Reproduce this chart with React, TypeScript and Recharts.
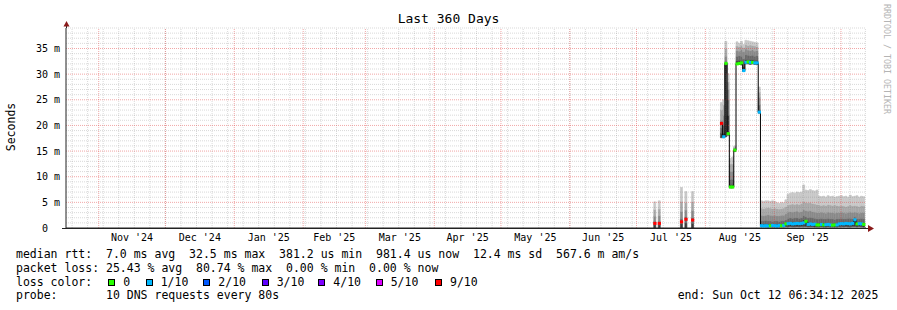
import React from 'react';
import { ComposedChart, Bar, Line, Scatter, XAxis, YAxis, ReferenceLine } from 'recharts';

const FONT = '"DejaVu Sans Mono", "Liberation Mono", monospace';

// x axis = days since graph start (Thu Oct 17 2024 06:34:12), 360 days wide
const monthStarts = [14.73, 44.73, 75.73, 106.73, 134.73, 165.73, 195.73, 226.73, 256.73, 287.73, 318.73, 348.73];
const monthLabels = ["Nov '24", "Dec '24", "Jan '25", "Feb '25", "Mar '25", "Apr '25", "May '25", "Jun '25", "Jul '25", "Aug '25", "Sep '25"];
const firstSunday = 2.73;
const yTicks = [0, 5, 10, 15, 20, 25, 30, 35];

const lossColor: Record<number, string> = {
  0: '#26ff00', 1: '#00b8ff', 2: '#0059ff', 3: '#5e00ff', 4: '#7e00ff', 5: '#dd00ff', 9: '#ff0000',
};
const legendLoss = ['0', '1/10', '2/10', '3/10', '4/10', '5/10', '9/10'];
const legendKeys = [0, 1, 2, 3, 4, 5, 9];

// values in ms; smoke = lo .. u1 .. u5 (dark to light)
const julDays = [265, 267, 277, 279, 282];
const julMed = [0.9, 0.9, 1.2, 1.7, 1.55];
const julLoss = [9, 9, 9, 9, 9];
const julLo = [0, 0, 0, 0, 0];
const julU1 = [0.6, 0.6, 0.8, 1.0, 0.9];
const julU2 = [1.3, 1.3, 1.8, 2.2, 2.0];
const julU3 = [2.3, 2.4, 3.2, 3.5, 3.4];
const julU4 = [3.6, 3.7, 5.2, 5.0, 5.1];
const julU5 = [5.1, 5.3, 7.9, 7.1, 7.1];

const augDays = [295, 296, 297, 298, 299, 300, 301, 302, 303, 304, 305, 306, 307, 308, 309, 310, 311, 312];
const augMed = [20.4, 17.8, 32.1, 18.4, 8.0, 8.0, 15.2, 32.0, 32.1, 32.2, 30.7, 32.3, 32.4, 32.3, 32.3, 32.2, 32.2, 22.6];
const augLoss = [9, 1, 0, 0, 0, 0, 0, 0, 0, 0, 1, 1, 0, 1, 0, 1, 1, 1];
const augLo = [17.6, 17.6, 17.8, 18.1, 7.8, 7.8, 14.9, 31.9, 31.9, 31.8, 30.5, 32.0, 32.0, 31.9, 32.0, 31.9, 31.9, 22.4];
const augU1 = [18.5, 18.5, 31.8, 22.0, 8.5, 8.5, 15.2, 32.6, 32.7, 32.6, 31.5, 32.8, 32.8, 32.8, 32.8, 32.7, 32.7, 23.0];
const augU2 = [19.5, 20.0, 32.5, 25.0, 9.5, 9.5, 15.4, 33.5, 33.6, 33.5, 33.0, 33.8, 33.7, 33.6, 33.7, 33.5, 33.6, 24.0];
const augU3 = [21.0, 22.0, 33.5, 27.0, 11.0, 11.0, 15.6, 34.6, 34.5, 34.8, 34.4, 34.9, 34.7, 34.6, 34.8, 34.5, 34.6, 25.5];
const augU4 = [23.0, 24.0, 35.0, 28.5, 12.5, 12.5, 15.8, 35.5, 35.4, 35.6, 35.2, 35.8, 35.6, 35.7, 35.6, 35.5, 35.4, 26.5];
const augU5 = [24.5, 25.0, 36.4, 30.1, 13.6, 13.8, 16.0, 36.3, 36.0, 36.4, 35.8, 36.6, 36.5, 36.4, 36.3, 36.2, 36.1, 27.5];

const sepDays = [
  313, 314, 315, 316, 317, 318, 319, 320, 321, 322, 323, 324, 325, 326, 327, 328, 329, 330, 331, 332, 333, 334, 335, 336,
  337, 338, 339, 340, 341, 342, 343, 344, 345, 346, 347, 348, 349, 350, 351, 352, 353, 354, 355, 356, 357, 358, 359,
];
const sepMed = [
  0.45, 0.4, 0.45, 0.4, 0.45, 0.5, 0.45, 0.4, 0.5, 0.45, 0.5, 0.8, 0.85, 0.9, 0.8, 0.85, 0.9, 0.85, 0.9, 1.0, 1.3, 0.7, 0.8, 0.7,
  0.75, 0.6, 0.6, 0.7, 0.6, 0.65, 0.7, 0.6, 0.55, 0.6, 0.6, 0.8, 0.85, 0.8, 0.9, 0.85, 0.8, 0.9, 1.6, 0.8, 0.85, 0.8, 0.7,
];
const sepLoss = [
  1, 1, 1, 1, 0, 1, 1, 1, 1, 0, 1, 0, 1, 1, 1, 1, 1, 1, 1, 1, 0, 1, 1, 1,
  1, 0, 0, 1, 0, 1, 1, 1, 0, 0, 1, 1, 1, 1, 1, 1, 1, 1, 1, 0, 1, 1, 0,
];
const sepLo = [
  0.2, 0.2, 0.2, 0.15, 0.2, 0.2, 0.2, 0.15, 0.2, 0.2, 0.2, 0.25, 0.25, 0.3, 0.25, 0.25, 0.3, 0.25, 0.3, 0.3, 0.3, 0.25, 0.25, 0.25,
  0.2, 0.2, 0.2, 0.25, 0.2, 0.2, 0.25, 0.2, 0.2, 0.2, 0.2, 0.25, 0.3, 0.25, 0.3, 0.25, 0.25, 0.3, 0.3, 0.25, 0.3, 0.25, 0.2,
];
const sepU1 = [
  0.8, 0.8, 0.85, 0.8, 0.8, 0.85, 0.8, 0.8, 0.85, 0.8, 0.85, 1.1, 1.2, 1.2, 1.25, 1.2, 1.2, 1.25, 1.3, 1.6, 1.1, 1.2, 1.1, 1.1,
  1.0, 0.95, 1.0, 0.95, 1.0, 0.95, 1.0, 0.9, 0.9, 0.95, 0.95, 1.1, 1.15, 1.1, 1.2, 1.15, 1.1, 1.2, 1.8, 1.1, 1.15, 1.1, 1.0,
];
const sepU2 = [
  1.4, 1.4, 1.5, 1.4, 1.4, 1.3, 1.4, 1.4, 1.3, 1.4, 1.4, 1.6, 1.9, 2.0, 1.9, 2.0, 2.0, 1.9, 2.0, 2.4, 2.2, 2.0, 2.1, 2.0,
  1.9, 1.8, 1.8, 1.9, 1.8, 1.8, 1.9, 1.8, 1.8, 1.7, 1.8, 1.8, 1.9, 1.8, 1.8, 1.9, 1.9, 1.8, 2.2, 1.8, 1.8, 1.9, 1.8,
];
const sepU3 = [
  2.5, 2.4, 2.5, 2.6, 2.5, 2.4, 2.5, 2.4, 2.4, 2.5, 2.5, 2.8, 3.1, 3.2, 3.1, 3.2, 3.3, 3.1, 3.2, 3.6, 3.4, 3.3, 3.4, 3.2,
  3.1, 3.0, 3.0, 3.1, 3.0, 2.9, 3.1, 3.0, 3.0, 2.9, 3.0, 3.0, 3.1, 3.0, 2.9, 3.0, 3.1, 3.0, 3.1, 3.0, 2.9, 3.0, 3.0,
];
const sepU4 = [
  3.9, 3.8, 3.9, 4.0, 3.9, 3.8, 3.9, 3.8, 3.7, 3.8, 3.9, 4.2, 4.5, 4.6, 4.7, 4.6, 4.7, 4.6, 4.8, 5.2, 5.0, 4.9, 5.0, 4.8,
  4.7, 4.6, 4.5, 4.4, 4.5, 4.4, 4.6, 4.5, 4.4, 4.5, 4.4, 4.3, 4.4, 4.3, 4.2, 4.3, 4.5, 4.3, 4.4, 4.3, 4.2, 4.4, 4.3,
];
const sepU5 = [
  5.3, 5.2, 5.3, 5.3, 5.2, 5.3, 5.2, 4.9, 4.8, 5.0, 4.9, 5.5, 6.6, 6.8, 6.9, 6.8, 7.0, 6.9, 7.0, 8.4, 7.4, 7.3, 7.5, 7.3,
  7.2, 7.4, 6.2, 6.1, 6.2, 6.0, 6.3, 6.1, 6.2, 6.0, 6.1, 6.2, 6.3, 6.1, 6.2, 6.0, 6.4, 6.1, 6.2, 6.3, 6.0, 6.2, 6.1,
];

// days without data that break the median line
const gapDays = [266, 268, 278, 280, 281, 283];

type Row = {
  d: number; base: number; s1: number; s2: number; s3: number; s4: number; s5: number;
  med: number | null; loss: number | null;
};

function segment(days: number[], med: number[], loss: number[], lo: number[], u1: number[], u2: number[], u3: number[], u4: number[], u5: number[]): Row[] {
  return days.map((d, i) => ({
    d,
    base: lo[i],
    s1: u1[i] - lo[i],
    s2: u2[i] - u1[i],
    s3: u3[i] - u2[i],
    s4: u4[i] - u3[i],
    s5: u5[i] - u4[i],
    med: med[i],
    loss: loss[i],
  }));
}

const rows: Row[] = [
  ...segment(julDays, julMed, julLoss, julLo, julU1, julU2, julU3, julU4, julU5),
  ...segment(augDays, augMed, augLoss, augLo, augU1, augU2, augU3, augU4, augU5),
  ...segment(sepDays, sepMed, sepLoss, sepLo, sepU1, sepU2, sepU3, sepU4, sepU5),
  ...gapDays.map((d) => ({ d, base: 0, s1: 0, s2: 0, s3: 0, s4: 0, s5: 0, med: null, loss: null })),
].sort((a, b) => a.d - b.d);

const marks = rows.filter((r) => r.med !== null);

const labelDays = monthLabels.map((_, i) => (monthStarts[i] + monthStarts[i + 1]) / 2);
const weekLines = Array.from({ length: 52 }, (_, i) => firstSunday + 7 * i);
const minorY = Array.from({ length: 39 }, (_, i) => i + 1).filter((v) => v % 5 !== 0);
const majorY = [5, 10, 15, 20, 25, 30, 35];

const smokeColors = ['#3c3c3c', '#686868', '#8a8a8a', '#a8a8a8', '#c8c8c8'];
const smokeKeys = ['s1', 's2', 's3', 's4', 's5'];
const minorGrid = 'rgba(128,128,128,0.3)';
const majorGrid = 'rgba(225,60,60,0.45)';

const MedianMark = (props: any) => {
  const { cx, cy, payload } = props;
  if (cx == null || cy == null) return null;
  return <rect x={cx - 1.6} y={cy - 1.5} width={3.2} height={3} fill={lossColor[payload.loss]} />;
};

const fmtY = (v: number) => (v === 0 ? '0\u00a0\u00a0' : `${v} m`);

const text: React.CSSProperties = {
  position: 'absolute',
  fontFamily: FONT,
  fontSize: 11.5,
  lineHeight: '14px',
  whiteSpace: 'pre',
  color: '#000',
};

export default function App() {
  return (
    <div style={{ position: 'absolute', left: 0, top: 0, width: 897, height: 310, background: '#fff', overflow: 'hidden' }}>
      <ComposedChart
        width={897}
        height={310}
        data={rows}
        barCategoryGap={0}
        barGap={0}
        margin={{ top: 28, right: 31, bottom: 52, left: 0 }}
      >
        <XAxis
          dataKey="d"
          type="number"
          domain={[0, 360]}
          allowDataOverflow
          ticks={labelDays}
          interval={0}
          tickFormatter={(_v: number, i: number) => monthLabels[i]}
          tickLine={false}
          tickSize={4}
          height={30}
          axisLine={{ stroke: '#222' }}
          tick={{ fontSize: 10, fill: '#000', fontFamily: FONT }}
        />
        <YAxis
          type="number"
          domain={[0, 39]}
          allowDataOverflow
          ticks={yTicks}
          interval={0}
          tickFormatter={fmtY}
          width={66}
          tickLine={false}
          tickSize={4}
          tickMargin={2}
          axisLine={{ stroke: '#222' }}
          tick={{ fontSize: 10, fill: '#000', fontFamily: FONT }}
        />
        <Bar dataKey="base" stackId="smoke" fill="transparent" isAnimationActive={false} />
        {smokeKeys.map((k, i) => (
          <Bar
            key={k}
            dataKey={k}
            stackId="smoke"
            fill={smokeColors[i]}
            stroke={smokeColors[i]}
            strokeWidth={0.7}
            isAnimationActive={false}
          />
        ))}
        {minorY.map((v) => (
          <ReferenceLine key={`my${v}`} y={v} stroke={minorGrid} strokeDasharray="1 1" />
        ))}
        {weekLines.map((v) => (
          <ReferenceLine key={`mx${v}`} x={v} stroke={minorGrid} strokeDasharray="1 1" />
        ))}
        {majorY.map((v) => (
          <ReferenceLine key={`My${v}`} y={v} stroke={majorGrid} strokeDasharray="1 1" />
        ))}
        {monthStarts.map((v) => (
          <ReferenceLine key={`Mx${v}`} x={v} stroke={majorGrid} strokeDasharray="1 1" />
        ))}
        <Line
          dataKey="med"
          type="step"
          stroke="#000"
          strokeWidth={1}
          dot={false}
          activeDot={false}
          connectNulls={false}
          isAnimationActive={false}
        />
        <Scatter data={marks} dataKey="med" shape={MedianMark} isAnimationActive={false} />
      </ComposedChart>

      <svg width={897} height={310} style={{ position: 'absolute', left: 0, top: 0, pointerEvents: 'none' }}>
        <line x1={66.5} y1={22} x2={66.5} y2={28} stroke="#222" />
        <line x1={62} y1={228.5} x2={868} y2={228.5} stroke="#222" />
        <polygon points="63.5,26.5 69.5,26.5 66.5,21" fill="#8a1a1a" />
        <polygon points="868,225 868,232 874,228.5" fill="#8a1a1a" />
      </svg>

      <div style={{ ...text, left: 0, top: 11, width: 897, textAlign: 'center', fontSize: 13, lineHeight: '15px' }}>Last 360 Days</div>
      <div style={{ ...text, left: 11, top: 127, transform: 'translate(-50%, -50%) rotate(-90deg)' }}>Seconds</div>
      <div style={{ ...text, left: 882, top: 4, fontSize: 8.3, lineHeight: '10px', writingMode: 'vertical-rl', color: '#b4b4b4' }}>
        RRDTOOL / TOBI OETIKER
      </div>

      <div style={{ ...text, left: 16, top: 247 }}>
        {'median rtt:  7.0 ms avg  32.5 ms max  381.2 us min  981.4 us now  12.4 ms sd  567.6 m am/s'}
      </div>
      <div style={{ ...text, left: 16, top: 261 }}>
        {'packet loss: 25.43 % avg  80.74 % max  0.00 % min  0.00 % now'}
      </div>
      <div style={{ ...text, left: 16, top: 274.5 }}>{'loss color:'}</div>
      {legendLoss.map((lbl, i) => {
        const boxX = [108.3, 145.7, 203.3, 261.7, 318.3, 375.7, 435][i];
        return (
          <React.Fragment key={lbl}>
            <div
              style={{
                position: 'absolute', left: boxX, top: 278.5, width: 5, height: 5,
                border: '1px solid #000', background: lossColor[legendKeys[i]],
              }}
            />
            <div style={{ ...text, left: boxX + 15, top: 274.5 }}>{lbl}</div>
          </React.Fragment>
        );
      })}
      <div style={{ ...text, left: 16, top: 288 }}>{'probe:       10 DNS requests every 80s'}</div>
      <div style={{ ...text, left: 677.7, top: 288 }}>{'end: Sun Oct 12 06:34:12 2025'}</div>
    </div>
  );
}
